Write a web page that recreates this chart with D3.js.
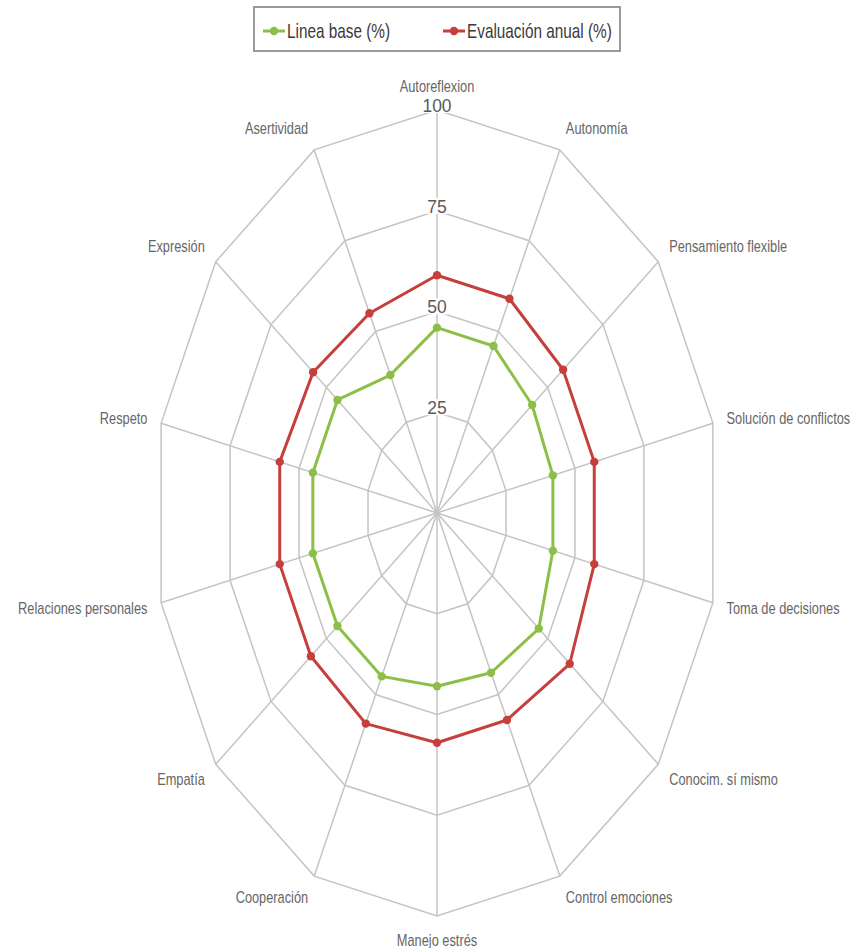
<!DOCTYPE html>
<html>
<head>
<meta charset="utf-8">
<script src="https://cdn.jsdelivr.net/npm/d3@7"></script>
<style>
  body { margin: 0; background: #fff; }
  svg { display: block; }
  text { font-family: "Liberation Sans", Arial, sans-serif; }
</style>
</head>
<body>
<script>
const categories = [
  "Autoreflexion", "Autonomía", "Pensamiento flexible", "Solución de conflictos",
  "Toma de decisiones", "Conocim. sí mismo", "Control emociones", "Manejo estrés",
  "Cooperación", "Empatía", "Relaciones personales", "Respeto", "Expresión", "Asertividad"
];
const lineaBase = [46, 46, 43, 42, 42, 46, 44, 43, 45, 45, 45, 45, 45, 38];
const evaluacionAnual = [59, 59, 57, 57, 57, 60, 57, 57, 58, 57, 57, 57, 56, 55];
const levels = [25, 50, 75, 100];
const seriesNames = ["Linea base (%)", "Evaluación anual (%)"];
const seriesColors = ["#8dbf48", "#c53f3d"];

const WIDTH = 862;
const HEIGHT = 948;
const CX = 437;
const CY = 513;

const svg = d3.select("body").append("svg")
    .attr("width", WIDTH)
    .attr("height", HEIGHT);

// the pane is an ellipse: wider scale vertically than horizontally
const rX = d3.scaleLinear().domain([0, 100]).range([0, 283]);
const rY = d3.scaleLinear().domain([0, 100]).range([0, 403]);
const angle = d3.scaleLinear().domain([0, categories.length]).range([0, 2 * Math.PI]);

function px (i, v) { return CX + rX(v) * Math.sin(angle(i)); }
function py (i, v) { return CY - rY(v) * Math.cos(angle(i)); }

const ring = d3.line()
    .x(d => px(d.i, d.v))
    .y(d => py(d.i, d.v))
    .curve(d3.curveLinearClosed);

const grid = svg.append("g")
    .attr("fill", "none")
    .attr("stroke", "#c4c4c4")
    .attr("stroke-width", 1.5);

// spokes
grid.selectAll(".spoke")
    .data(categories).enter()
  .append("line")
    .attr("class", "spoke")
    .attr("x1", CX)
    .attr("y1", CY)
    .attr("x2", (c, i) => px(i, 100))
    .attr("y2", (c, i) => py(i, 100));

// rings
grid.selectAll(".ring")
    .data(levels).enter()
  .append("path")
    .attr("class", "ring")
    .attr("d", lv => ring(categories.map((c, i) => ({i, v: lv}))));

// level labels with white background
const lvl = svg.append("g").selectAll("g")
    .data(levels).enter()
  .append("g")
    .attr("transform", lv => `translate(${CX},${CY - rY(lv) - 5})`);

lvl.append("rect")
    .attr("x", lv => lv === 100 ? -18 : -12)
    .attr("width", lv => lv === 100 ? 36 : 24)
    .attr("y", -8)
    .attr("height", 16)
    .attr("fill", "#fff");

lvl.append("text")
    .attr("transform", "scale(0.92,1)")
    .attr("text-anchor", "middle")
    .attr("dy", "0.36em")
    .attr("font-size", 19)
    .attr("fill", "#5a5a5a")
    .text(lv => lv);

// category labels
svg.append("g").selectAll("text")
    .data(categories).enter()
  .append("text")
    .attr("transform", (c, i) => {
      const a = angle(i);
      const x = CX + (rX(100) + 14) * Math.sin(a);
      const y = CY - (rY(100) + 24) * Math.cos(a);
      return `translate(${x},${y}) scale(0.8,1)`;
    })
    .attr("text-anchor", (c, i) => {
      const s = Math.sin(angle(i));
      if (s > 0.01) return "start";
      if (s < -0.01) return "end";
      return "middle";
    })
    .attr("dy", "0.35em")
    .attr("font-size", 16)
    .attr("fill", "#666")
    .text(c => c);

// series
const series = [lineaBase, evaluacionAnual];

const sg = svg.selectAll(".series")
    .data(series).enter()
  .append("g")
    .attr("class", "series");

sg.append("path")
    .attr("d", vals => ring(vals.map((v, i) => ({i, v}))))
    .attr("fill", "none")
    .attr("stroke", (vals, k) => seriesColors[k])
    .attr("stroke-width", 3)
    .attr("stroke-linejoin", "round");

sg.each(function (vals, k) {
  d3.select(this).selectAll("circle")
      .data(vals).enter()
    .append("circle")
      .attr("r", 4.2)
      .attr("cx", (v, i) => px(i, v))
      .attr("cy", (v, i) => py(i, v))
      .attr("fill", seriesColors[k]);
});

// legend
const legend = svg.append("g");

legend.append("rect")
    .attr("x", 254)
    .attr("y", 7)
    .attr("width", 366)
    .attr("height", 44)
    .attr("fill", "#fff")
    .attr("stroke", "#9a9a9a")
    .attr("stroke-width", 2);

const legendX = [263, 443];

const li = legend.selectAll(".item")
    .data(seriesNames).enter()
  .append("g")
    .attr("class", "item")
    .attr("transform", (n, k) => `translate(${legendX[k]},31)`);

li.append("line")
    .attr("x1", 0)
    .attr("x2", 22)
    .attr("stroke", (n, k) => seriesColors[k])
    .attr("stroke-width", 3);

li.append("circle")
    .attr("cx", 11)
    .attr("r", 4.2)
    .attr("fill", (n, k) => seriesColors[k]);

li.append("text")
    .attr("transform", "translate(24,0) scale(0.73,1)")
    .attr("dy", "0.35em")
    .attr("font-size", 21)
    .attr("fill", "#3a3a3a")
    .text(n => n);
</script>
</body>
</html>
